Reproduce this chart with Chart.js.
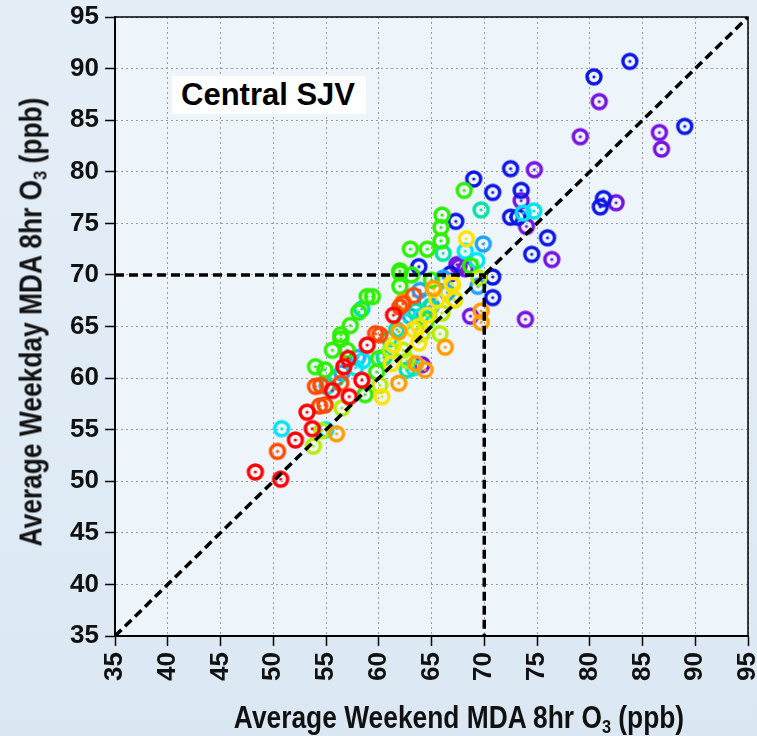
<!DOCTYPE html>
<html>
<head>
<meta charset="utf-8">
<script src="https://cdn.jsdelivr.net/npm/chart.js@4.4.1/dist/chart.umd.min.js"></script>
<style>
html, body { margin: 0; padding: 0; }
body { width: 757px; height: 736px; overflow: hidden; background: linear-gradient(180deg, #e4eef7 0%, #dbe8f3 100%); }
#wrap { position: relative; width: 757px; height: 736px; }
#chart { position: absolute; left: 0; top: 0; }
#tag { position: absolute; left: 172px; top: 76px; width: 194px; height: 38px; background: #fdfefe;
  font: bold 31px "Liberation Sans", Arial, sans-serif; line-height: 38px; padding-left: 9px;
  box-sizing: border-box; color: #000; white-space: nowrap; }
.axtitle { position: absolute; font: bold 31px "Liberation Sans", Arial, sans-serif; color: #111;
  white-space: nowrap; line-height: 1; }
.axtitle sub { font-size: 0.62em; vertical-align: -0.28em; line-height: 0; }
#xtitle { left: 459px; top: 717px; transform: translate(-50%, -50%) scaleX(0.85); }
#ytitle { left: 31px; top: 322px; transform: translate(-50%, -50%) rotate(-90deg) scaleX(0.85); }
</style>
</head>
<body>
<div id="wrap">
  <canvas id="chart" width="757" height="736"></canvas>
  <div id="tag">Central SJV</div>
  <div class="axtitle" id="xtitle">Average Weekend MDA 8hr O<sub>3</sub> (ppb)</div>
  <div class="axtitle" id="ytitle">Average Weekday MDA 8hr O<sub>3</sub> (ppb)</div>
</div>
<script>
// axis range + the 70 ppb guide
const AXIS_MIN = 35, AXIS_MAX = 95, AXIS_STEP = 5;
const STANDARD = 70;

// site averages [weekend, weekday] in ppb, one list per marker colour
const red = [[48.3,50.9],[50.7,50.2],[52.1,54.0],[53.2,56.7],[53.7,55.1],[55.6,58.8],[56.7,61.1],
  [57.1,61.9],[57.2,58.2],[58.4,59.8],[58.9,63.2],[61.4,66.1]];
const orangeRed = [[50.4,52.9],[54.4,57.3],[54.9,57.4],[54.0,59.2],[54.5,59.3],[56.4,59.5],[59.7,64.3],
  [60.1,64.2],[62.3,67.2],[62.0,66.9],[63.3,68.0]];
const orange = [[56.0,54.6],[61.9,59.5],[63.5,61.4],[64.4,60.8],[66.3,63.0],[69.7,66.5],[69.7,65.4],
  [65.2,68.7],[61.9,64.5],[62.3,67.4]];
const yellow = [[68.3,73.5],[66.9,69.2],[67.0,69.0],[65.5,67.6],[67.1,67.6],[64.6,66.1],[63.8,65.0],
  [63.3,64.7],[63.8,63.4],[61.2,61.4],[61.4,63.2],[60.3,58.2],[65.2,68.6]];
const yellowGreen = [[53.8,53.4],[54.6,54.9],[67.2,67.6],[69.5,69.7],[64.1,64.3],[65.8,64.3],[61.1,62.7],
  [62.3,62.7],[62.7,61.7],[60.1,59.3],[56.5,57.1],[66.0,66.3]];
const green = [[68.1,78.2],[66.0,75.8],[65.9,74.6],[65.9,73.3],[63.0,72.5],[64.6,72.5],[62.0,70.4],
  [63.1,70.0],[62.0,68.9],[59.4,67.9],[58.9,67.9],[58.1,66.4],[57.3,65.1],[56.4,64.2],[55.6,62.7],
  [54.0,61.1],[54.9,60.8],[56.4,63.8],[57.0,62.7],[68.7,70.9],[60.0,61.9],[59.8,60.6],[58.7,58.4],
  [62.0,70.2],[64.5,65.5],[65.0,69.5]];
const teal = [[69.7,76.3],[66.1,72.1],[58.4,66.7],[62.7,60.8],[61.7,64.7],[63.5,66.5],[60.5,62.0],
  [64.8,66.8],[61.0,63.8],[56.0,60.0]];
const cyan = [[50.8,55.1],[55.0,55.0],[73.7,76.0],[74.7,76.2],[68.2,72.3],[69.3,71.4],[55.1,59.2],
  [58.5,61.7],[64.0,66.0],[62.5,65.5],[57.8,61.0],[63.3,61.0]];
const azure = [[69.9,73.0],[69.4,68.9],[66.1,69.7],[63.9,68.5],[64.5,67.5],[65.0,67.0],[56.5,60.5],
  [63.0,66.0],[66.5,68.3],[58.0,62.0]];
const blue = [[83.8,90.7],[80.4,89.2],[89.0,84.4],[72.5,80.3],[69.0,79.3],[70.8,78.0],[73.5,78.2],
  [72.5,75.6],[73.2,75.6],[81.3,77.4],[81.0,76.6],[67.3,75.2],[76.0,73.6],[74.5,72.0],[70.8,69.8],
  [70.8,67.8],[63.8,70.8],[66.8,70.1]];
const violet = [[80.9,86.8],[79.1,83.4],[86.6,83.8],[86.8,82.2],[74.75,80.2],[73.5,77.2],[82.5,77.0],
  [74.0,74.7],[76.4,71.5],[67.4,71.0],[68.2,70.6],[67.6,70.8],[68.7,66.0],[73.9,65.7],[64.1,61.3]];

// first in list ends up on top
const groups = [
  { pts: red, color: "#ff0000" },
  { pts: orangeRed, color: "#ff4a00" },
  { pts: orange, color: "#ff9d00" },
  { pts: yellow, color: "#ffe200" },
  { pts: yellowGreen, color: "#b4ee00" },
  { pts: green, color: "#2def00" },
  { pts: teal, color: "#00e4a6" },
  { pts: cyan, color: "#00e4f4" },
  { pts: azure, color: "#1ea2ff" },
  { pts: blue, color: "#0c16e4" },
  { pts: violet, color: "#7412e0" }
];

// ring marker with a dot in the middle
function ring(color) {
  const c = document.createElement("canvas");
  c.width = c.height = 22;
  const g = c.getContext("2d");
  g.strokeStyle = color;
  g.lineWidth = 3.4;
  g.beginPath(); g.arc(11, 11, 7, 0, Math.PI * 2); g.stroke();
  g.fillStyle = color;
  g.beginPath(); g.arc(11, 11, 1.6, 0, Math.PI * 2); g.fill();
  return c;
}

const toXY = arr => arr.map(p => ({ x: p[0], y: p[1] }));

// plot background + outer frame
const frame = {
  id: "frame",
  beforeDraw(chart) {
    const { ctx, chartArea: a } = chart;
    ctx.save();
    ctx.fillStyle = "#eef5fa";
    ctx.fillRect(a.left, a.top, a.right - a.left, a.bottom - a.top);
    ctx.restore();
  },
  afterDraw(chart) {
    const { ctx, chartArea: a } = chart;
    ctx.save();
    ctx.strokeStyle = "#000";
    ctx.lineWidth = 1.5;
    ctx.strokeRect(a.left, a.top, a.right - a.left, a.bottom - a.top);
    ctx.restore();
  }
};

const tickFont = { family: '"Liberation Sans", Arial, sans-serif', size: 26, weight: "bold" };
const gridOpts = { color: "#9c9c9c", lineWidth: 1, tickColor: "#000", tickWidth: 1.5, tickLength: 10 };
const borderOpts = { color: "#000", width: 2, dash: [2, 3] };

const datasets = [
  { type: "line", data: toXY([[AXIS_MIN, AXIS_MIN], [AXIS_MAX, AXIS_MAX]]), borderColor: "#000",
    borderWidth: 3.5, borderDash: [9, 5], pointRadius: 0, order: 0 },
  { type: "line", data: toXY([[AXIS_MIN, STANDARD], [STANDARD, STANDARD], [STANDARD, AXIS_MIN]]), borderColor: "#000",
    borderWidth: 3.5, borderDash: [9, 5], pointRadius: 0, order: 0 }
];
groups.forEach(g => datasets.push({
  type: "scatter", data: toXY(g.pts), pointStyle: ring(g.color), pointRadius: 8, order: 1
}));

new Chart(document.getElementById("chart"), {
  data: { datasets },
  plugins: [frame],
  options: {
    responsive: false,
    devicePixelRatio: 1,
    animation: false,
    events: [],
    layout: { padding: { left: 0, right: 9, top: 17, bottom: 0 } },
    plugins: { legend: { display: false }, tooltip: { enabled: false } },
    scales: {
      x: {
        type: "linear", min: AXIS_MIN, max: AXIS_MAX,
        ticks: { stepSize: AXIS_STEP, autoSkip: false, minRotation: 90, maxRotation: 90, padding: 6, color: "#111", font: tickFont },
        grid: gridOpts, border: borderOpts,
        afterFit(s) { s.height = 100; s.paddingLeft = 0; s.paddingRight = 0; }
      },
      y: {
        type: "linear", min: AXIS_MIN, max: AXIS_MAX,
        ticks: { stepSize: AXIS_STEP, autoSkip: false, padding: 6, color: "#111", font: tickFont },
        grid: gridOpts, border: borderOpts,
        afterFit(s) { s.width = 115; s.paddingTop = 0; s.paddingBottom = 0; }
      }
    }
  }
});
</script>
</body>
</html>
